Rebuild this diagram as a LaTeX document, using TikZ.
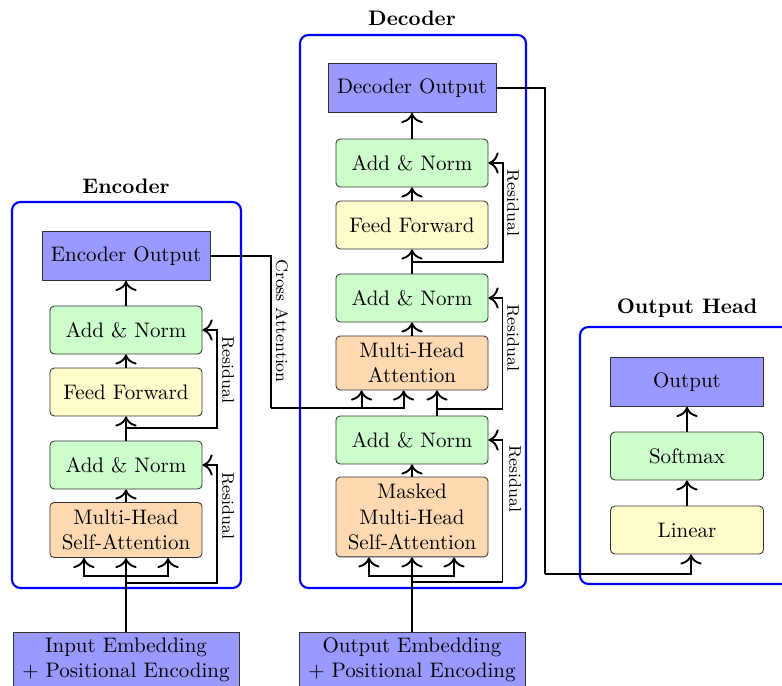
\documentclass[tikz,border=0pt]{standalone}
\usetikzlibrary{calc,arrows.meta}
\begin{document}
\begin{tikzpicture}[x=0.476pt,y=-0.476pt,
  box/.style={draw=black!80, rounded corners=2pt, minimum width=72.4pt,
    minimum height=22.8pt, align=center, inner sep=2pt},
  embbox/.style={draw=black!80, fill=blue!40, align=center, inner sep=2pt},
  an/.style={box, fill=green!20},
  ffbox/.style={box, fill=yellow!20},
  att/.style={box, fill=orange!30},
  arr/.style={-{To[scale=1.35]}, line width=0.9pt},
  wire/.style={line width=0.9pt},
  group/.style={draw=blue, line width=1pt, rounded corners=4pt},
  title/.style={font=\bfseries},
  side/.style={font=\footnotesize, rotate=-90}]

\useasboundingbox (0,0) rectangle (782,686);

% block frames
\draw[group] (12,202) rectangle (241,588);
\draw[group] (300,35) rectangle (526,588);
\draw[group] (580,327) rectangle (794,584);
\node[title] (enctitle) at (126,186) {Encoder};
\node[title] (dectitle) at (412,18) {Decoder};
\node[title] (headtitle) at (687,308) {Output Head};

% encoder stack
\node[embbox, minimum width=80pt, minimum height=23.3pt] (encout) at (126,256) {Encoder Output};
\node[an] (encan2) at (126,330) {Add \& Norm};
\node[ffbox] (encff) at (126,392) {Feed Forward};
\node[an] (encan1) at (126,465) {Add \& Norm};
\node[att, minimum height=26.2pt] (encmha) at (126,530) {Multi-Head\\Self-Attention};
\node[embbox, minimum width=107.6pt, minimum height=26.7pt] (inemb) at (126,660) {Input Embedding\\+ Positional Encoding};

% decoder stack
\node[embbox, minimum width=80pt, minimum height=23.3pt] (decout) at (412,88) {Decoder Output};
\node[an] (decan3) at (412,163) {Add \& Norm};
\node[ffbox] (decff) at (412,225) {Feed Forward};
\node[an] (decan2) at (412,298) {Add \& Norm};
\node[att, minimum height=25.7pt] (decmha) at (412,363) {Multi-Head\\Attention};
\node[an] (decan1) at (412,440) {Add \& Norm};
\node[att, minimum height=38pt] (decmmha) at (412,517) {Masked\\Multi-Head\\Self-Attention};
\node[embbox, minimum width=107.6pt, minimum height=26.7pt] (outemb) at (412,660) {Output Embedding\\+ Positional Encoding};

% output head
\node[ffbox, minimum width=72.8pt] (linear) at (687,530) {Linear};
\node[an, minimum width=72.8pt] (softmax) at (687,456) {Softmax};
\node[embbox, minimum width=72.8pt, minimum height=23.3pt] (output) at (687,382) {Output};

% encoder wiring
\coordinate (encsplit) at (126,576);
\coordinate (encres1) at (126,583);
\coordinate (encres2) at (126,428);
\draw[arr] (inemb.north) -- (encmha.south);
\draw[wire] (inemb.north) -- (encres1);
\draw[arr] (encsplit) -| ($(encmha.south)+(-20pt,0)$);
\draw[arr] (encsplit) -| ($(encmha.south)+(20pt,0)$);
\draw[arr] (encres1) -| ($(encan1.east)+(7.1pt,0)$) -- (encan1.east);
\draw[arr] (encmha.north) -- (encan1.south);
\draw[arr] (encan1.north) -- (encff.south);
\draw[arr] (encres2) -| ($(encan2.east)+(7.1pt,0)$) -- (encan2.east);
\draw[arr] (encff.north) -- (encan2.south);
\draw[arr] (encan2.north) -- (encout.south);
\node[side] (resA) at (228,506) {Residual};
\node[side] (resB) at (228,370) {Residual};

% cross attention into the decoder
\coordinate (crossdown) at (271,408);
\draw[wire] (encout.east) -| (crossdown);
\draw[arr] (crossdown) -| ($(decmha.south)+(-4pt,0)$);
\draw[arr] (crossdown) -| ($(decmha.south)+(-24pt,0)$);
\node[side] (crosslabel) at (282,321) {Cross Attention};

% decoder wiring
\coordinate (decsplit) at (412,576);
\coordinate (decres1) at (412,582);
\coordinate (decres2) at (437,409);
\coordinate (decres3) at (412,262);
\draw[arr] (outemb.north) -- (decmmha.south);
\draw[wire] (outemb.north) -- (decres1);
\draw[arr] (decsplit) -| ($(decmmha.south)+(-20.5pt,0)$);
\draw[arr] (decsplit) -| ($(decmmha.south)+(20pt,0)$);
\draw[arr] (decres1) -| ($(decan1.east)+(6.7pt,0)$) -- (decan1.east);
\draw[arr] (decmmha.north) -- (decan1.south);
\draw[arr] ($(decan1.north)+(11.9pt,0)$) -- ($(decmha.south)+(11.9pt,0)$);
\draw[arr] (decres2) -| ($(decan2.east)+(6.7pt,0)$) -- (decan2.east);
\draw[arr] (decmha.north) -- (decan2.south);
\draw[arr] (decan2.north) -- (decff.south);
\draw[arr] (decres3) -| ($(decan3.east)+(7.1pt,0)$) -- (decan3.east);
\draw[arr] (decff.north) -- (decan3.south);
\draw[arr] (decan3.north) -- (decout.south);
\node[side] (resC) at (515,479) {Residual};
\node[side] (resD) at (513,338) {Residual};
\node[side] (resE) at (513,203) {Residual};

% decoder output to the head
\coordinate (headturn) at (545,574);
\draw[wire] (decout.east) -| (headturn);
\draw[arr] (headturn) -| ($(linear.south)+(1.9pt,0)$);
\draw[arr] (linear.north) -- (softmax.south);
\draw[arr] (softmax.north) -- (output.south);
\end{tikzpicture}
\end{document}
